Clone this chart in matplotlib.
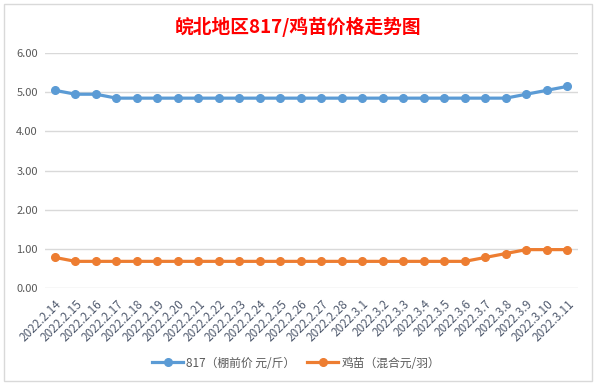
import matplotlib
matplotlib.use('Agg')
import matplotlib.pyplot as plt
from matplotlib.patches import Rectangle

plt.rcParams['font.family'] = ['Noto Sans CJK SC', 'DejaVu Sans']

# Data
dates = ['2022.2.14', '2022.2.15', '2022.2.16', '2022.2.17', '2022.2.18', '2022.2.19',
         '2022.2.20', '2022.2.21', '2022.2.22', '2022.2.23', '2022.2.24', '2022.2.25',
         '2022.2.26', '2022.2.27', '2022.2.28', '2022.3.1', '2022.3.2', '2022.3.3',
         '2022.3.4', '2022.3.5', '2022.3.6', '2022.3.7', '2022.3.8', '2022.3.9',
         '2022.3.10', '2022.3.11']
price_817 = [5.05, 4.95, 4.95, 4.85, 4.85, 4.85, 4.85, 4.85, 4.85, 4.85, 4.85, 4.85, 4.85,
             4.85, 4.85, 4.85, 4.85, 4.85, 4.85, 4.85, 4.85, 4.85, 4.85, 4.95, 5.05, 5.15]
price_chick = [0.78, 0.68, 0.68, 0.68, 0.68, 0.68, 0.68, 0.68, 0.68, 0.68, 0.68, 0.68, 0.68,
               0.68, 0.68, 0.68, 0.68, 0.68, 0.68, 0.68, 0.68, 0.78, 0.88, 0.98, 0.98, 0.98]
label_817 = '817（棚前价 元/斤）'
label_chick = '鸡苗（混合元/羽）'
title = '皖北地区817/鸡苗价格走势图'

fig = plt.figure(figsize=(5.96, 3.85), dpi=100)
ax = fig.add_axes([0.075, 0.252, 0.894, 0.61])

# chart frame
fig.patches.append(Rectangle((0.006, 0.01), 0.988, 0.98, transform=fig.transFigure,
                             fill=False, edgecolor='#D9D9D9', linewidth=1))

x = [i + 0.5 for i in range(len(dates))]
ax.plot(x, price_817, color='#5B9BD5', linewidth=2.3, marker='o', markersize=5.5,
        label=label_817)
ax.plot(x, price_chick, color='#ED7D31', linewidth=2.3, marker='o', markersize=5.5,
        label=label_chick)

ax.set_xlim(0, len(dates))
ax.set_ylim(0, 6)
ax.set_yticks([0, 1, 2, 3, 4, 5, 6])
ax.set_yticklabels([f'{v:.2f}' for v in [0, 1, 2, 3, 4, 5, 6]])
ax.set_xticks(x)
ax.set_xticklabels(dates, rotation=45, ha='right', rotation_mode='anchor')
ax.tick_params(axis='y', length=0, labelsize=8, colors='#595959', pad=5)
ax.tick_params(axis='x', length=0, labelsize=8.5, colors='#505A6E', pad=7)

ax.grid(axis='y', color='#D9D9D9', linewidth=1)
ax.set_axisbelow(True)
for s in ax.spines.values():
    s.set_visible(False)

fig.text(0.5, 0.93, title, ha='center', va='center', fontsize=13.5,
         fontweight='bold', color='#FF0000')

fig.legend(loc='center', bbox_to_anchor=(0.497, 0.057), ncol=2, frameon=False,
           fontsize=8.5, labelcolor='#595959', handlelength=2.6, columnspacing=1.0,
           handletextpad=0.3)

fig.savefig('out.png', dpi=100)
